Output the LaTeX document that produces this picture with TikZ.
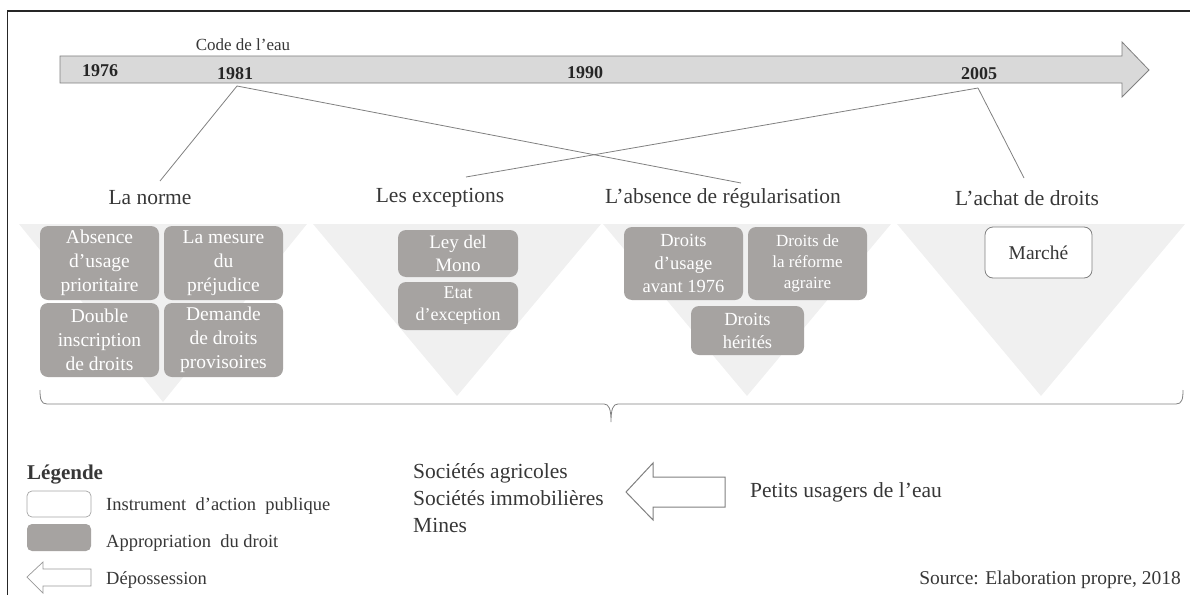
\documentclass[tikz,border=0pt]{standalone}
\usepackage{fontspec}
\setmainfont{Liberation Serif}
\usetikzlibrary{calc}
\definecolor{boxgray}{RGB}{166,163,161}
\definecolor{trigray}{RGB}{240,240,240}
\definecolor{tlfill}{RGB}{217,217,217}
\definecolor{linegray}{RGB}{128,128,128}
\definecolor{txt}{RGB}{55,55,55}
\newcommand{\fs}[2]{\fontsize{#1}{#2}\selectfont}
\begin{document}
\begin{tikzpicture}[x=1pt,y=-1pt,
  title/.style={text=txt,font=\fs{21.5}{24},inner sep=0pt},
  year/.style={text=black!85,font=\fs{18}{20}\bfseries,inner sep=0pt},
  grbox/.style={fill=boxgray,rounded corners=8pt,text=white,align=center,inner sep=0pt,font=\fs{19.5}{24}},
  whbox/.style={fill=white,draw=linegray,line width=0.8pt,rounded corners=8pt,text=txt,align=center,inner sep=0pt,font=\fs{19.5}{24}},
  tri/.style={fill=trigray,draw=none},
  conn/.style={draw=linegray,line width=0.8pt},
  legtext/.style={text=txt,font=\fs{18.5}{22},inner sep=0pt,anchor=west},
  bigtext/.style={text=txt,font=\fs{21.5}{27},inner sep=0pt}]
\useasboundingbox (0,0) rectangle (1190,594);
% frame
\draw[line width=1.5pt,black!85] (1200,11) -- (7.5,11) -- (7.5,610);
% timeline
\draw[fill=tlfill,draw=linegray,line width=0.8pt] (60,56) -- (1122,56) -- (1122,42) -- (1149,70) -- (1122,97) -- (1122,83) -- (60,83) -- cycle;
\node[text=txt,font=\fs{17}{20},inner sep=0pt] (code) at (243,45) {Code de l'eau};
\node[year] (y76) at (100,71) {1976};
\node[year] (y81) at (235,74) {1981};
\node[year] (y90) at (585,73) {1990};
\node[year] (y05) at (979,74) {2005};
\coordinate (c81) at (237,86);
\coordinate (c05) at (978,88);
% triangles
\fill[tri] (19,224) -- (307,224) -- (163,402) -- cycle;
\fill[tri] (313,224) -- (601,224) -- (457,396) -- cycle;
\fill[tri] (603,224) -- (891,224) -- (747,396) -- cycle;
\fill[tri] (897,224) -- (1185,224) -- (1041,396) -- cycle;
% titles
\node[title] (norme) at (150,198) {La norme};
\node[title] (excep) at (440,198) {Les exceptions};
\node[title] (absence) at (723,198) {L'absence de régularisation};
\node[title] (achat) at (1027,198) {L'achat de droits};
\coordinate (e1) at (160,181);
\coordinate (e2) at (466,177);
\coordinate (e3) at (741,183);
\coordinate (e4) at (1024,178);
\draw[conn] (c81) -- (e1);
\draw[conn] (c81) -- (e3);
\draw[conn] (c05) -- (e2);
\draw[conn] (c05) -- (e4);
% boxes
\node[grbox,minimum width=119pt,minimum height=74pt] (b1) at (99.5,263) {Absence\\d'usage\\prioritaire};
\node[grbox,minimum width=119pt,minimum height=74pt] (b2) at (223.5,263) {La mesure\\du\\préjudice};
\node[grbox,minimum width=119pt,minimum height=74pt] (b3) at (99.5,340) {Double\\inscription\\de droits};
\node[grbox,minimum width=119pt,minimum height=74pt] (b4) at (223.5,340) {Demande\\de droits\\provisoires};
\node[grbox,minimum width=120pt,minimum height=47pt,font=\fs{19}{23}] (b5) at (458,253.5) {Ley del\\Mono};
\node[grbox,minimum width=120pt,minimum height=48pt,font=\fs{18}{22}] (b6) at (458,306) {Etat\\d'exception};
\node[grbox,minimum width=119pt,minimum height=73pt,font=\fs{18.5}{23}] (b7) at (683.5,263.5) {Droits\\d'usage\\avant 1976};
\node[grbox,minimum width=119pt,minimum height=73pt,font=\fs{17}{21}] (b8) at (807.5,263.5) {Droits de\\la réforme\\agraire};
\node[grbox,minimum width=113pt,minimum height=49pt,font=\fs{18.5}{23}] (b9) at (747.5,330.5) {Droits\\hérités};
\node[whbox,minimum width=107pt,minimum height=51pt] (b10) at (1038.5,252.5) {Marché};
% brace
\draw[conn] (40,390) .. controls (40,399) and (41,404) .. (47,404) -- (604,404) .. controls (609,404) and (611,409) .. (611,422) .. controls (611,409) and (613,404) .. (618,404) -- (1176,404) .. controls (1182,404) and (1183,399) .. (1183,390);
% legend
\node[text=txt,font=\fs{21}{24}\bfseries,inner sep=0pt,anchor=west] (leg) at (27,475) {Légende};
\node[draw=black!35,line width=0.7pt,fill=white,rounded corners=5pt,minimum width=64pt,minimum height=26pt,inner sep=0pt] (lw) at (59,504) {};
\node[fill=boxgray,rounded corners=5pt,minimum width=64pt,minimum height=27pt,inner sep=0pt] (lg) at (59,537.5) {};
\draw[draw=linegray!80,line width=0.7pt,fill=white] (27,577) -- (43,562) -- (43,569) -- (91,569) -- (91,586) -- (43,586) -- (43,593) -- cycle;
\node[legtext] (lt1) at (106,506) {Instrument\ \ d'action\ \ publique};
\node[legtext] (lt2) at (106,543) {Appropriation\ \ du droit};
\node[legtext] (lt3) at (106,580) {Dépossession};
% bottom middle
\node[bigtext,align=left,anchor=west] (soc) at (413,498) {Sociétés agricoles\\Sociétés immobilières\\Mines};
\draw[draw=linegray,line width=1pt,fill=white] (626,492) -- (653,463) -- (653,477) -- (725,477) -- (725,507) -- (653,507) -- (653,520) -- cycle;
\node[bigtext,anchor=west] (petits) at (750,492) {Petits usagers de l'eau};
\node[text=txt,font=\fs{19.5}{22},inner sep=0pt,anchor=east] (src) at (1181,580) {Source: Elaboration propre, 2018};
\end{tikzpicture}
\end{document}
